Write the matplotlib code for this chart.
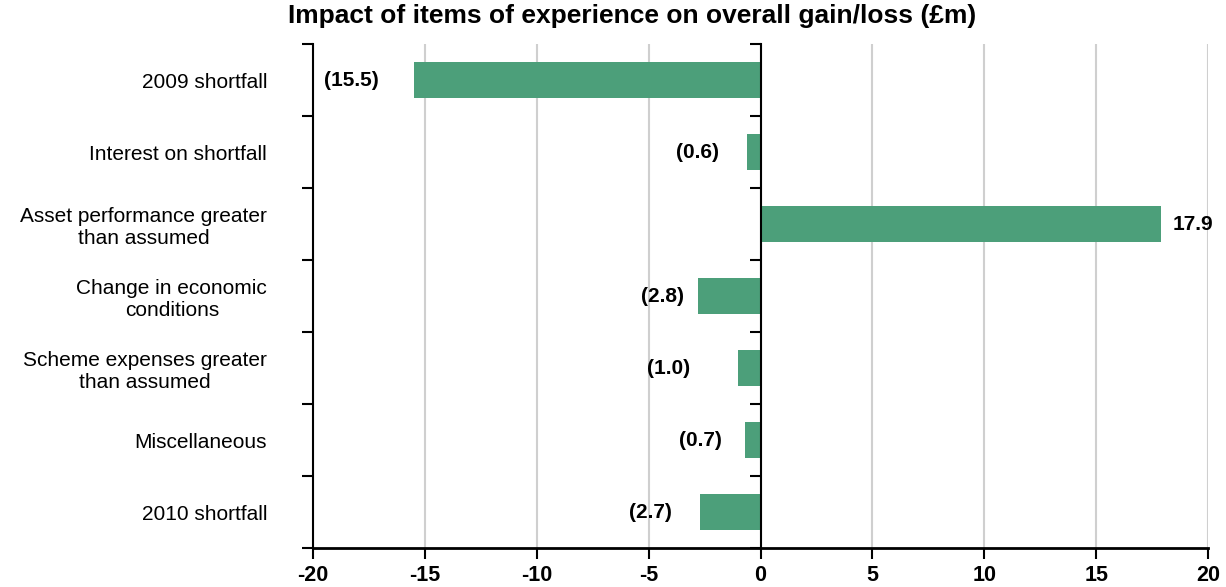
import matplotlib
matplotlib.use("Agg")
import matplotlib.pyplot as plt
import numpy as np

categories = [
    "2009 shortfall",
    "Interest on shortfall",
    "Asset performance greater\nthan assumed",
    "Change in economic\nconditions",
    "Scheme expenses greater\nthan assumed",
    "Miscellaneous",
    "2010 shortfall",
]
values = [-15.5, -0.6, 17.9, -2.8, -1.0, -0.7, -2.7]
value_labels = ["(15.5)", "(0.6)", "17.9", "(2.8)", "(1.0)", "(0.7)", "(2.7)"]
x_ticks = [-20, -15, -10, -5, 0, 5, 10, 15, 20]
x_tick_labels = ["-20", "-15", "-10", "-5", "0", "5", "10", "15", "20"]
title = "Impact of items of experience on overall gain/loss (£m)"

# style: gap (pixels) between bar end and its value label
label_gaps = [35, 28, 12, 14, 48, 23, 28]

plt.rcParams["font.family"] = ["Liberation Sans", "DejaVu Sans"]

W, H = 1226, 587
fig = plt.figure(figsize=(W / 100, H / 100), dpi=100)
left, right, top, bottom = 313, 1208, 44, 548
ax = fig.add_axes([left / W, 1 - bottom / H, (right - left) / W, (bottom - top) / H])

n = len(categories)
ypos = np.arange(n)
bar_color = "#4c9f7a"
ax.barh(ypos, values, height=0.5, color=bar_color, zorder=2)

ax.set_xlim(x_ticks[0], x_ticks[-1])
ax.set_ylim(n - 0.5, -0.5)

# grid
ax.set_xticks(x_ticks)
ax.set_xticklabels(x_tick_labels, fontsize=15.5, fontweight="bold")
ax.xaxis.grid(True, color="#cfcfcf", linewidth=1.5, zorder=0)
ax.set_axisbelow(True)
ax.tick_params(axis="x", direction="out", length=8, width=1.5, color="black", pad=4)

# y axis
ax.set_yticks(ypos)
ax.set_yticklabels(categories, fontsize=15, multialignment="center")
boundaries = np.arange(-0.5, n + 0.5, 1.0)
ax.set_yticks(boundaries, minor=True)
ax.tick_params(axis="y", which="major", length=0, pad=33)
ax.tick_params(axis="y", which="minor", direction="out", length=8, width=1.5, color="black")

for s in ["top", "right"]:
    ax.spines[s].set_visible(False)
ax.spines["left"].set_linewidth(1.5)
ax.spines["bottom"].set_linewidth(2)

# zero line with its own ticks
twin = ax.twinx()
twin.set_ylim(ax.get_ylim())
for s in ["top", "left", "bottom"]:
    twin.spines[s].set_visible(False)
twin.spines["right"].set_position(("data", 0))
twin.spines["right"].set_linewidth(1.5)
twin.set_yticks(boundaries)
twin.tick_params(axis="y", direction="in", length=8, width=1.5, color="black", labelright=False)

# value labels
for i, (v, lab, gap) in enumerate(zip(values, value_labels, label_gaps)):
    if v < 0:
        ax.annotate(lab, xy=(v, i), xytext=(-gap, 0), textcoords="offset pixels",
                    ha="right", va="center", fontsize=15, fontweight="bold")
    else:
        ax.annotate(lab, xy=(v, i), xytext=(gap, 0), textcoords="offset pixels",
                    ha="left", va="center", fontsize=15, fontweight="bold")

fig.text(632 / W, 1 - 16 / H, title, ha="center", va="center", fontsize=19, fontweight="bold")

fig.savefig("out.png", dpi=100)
